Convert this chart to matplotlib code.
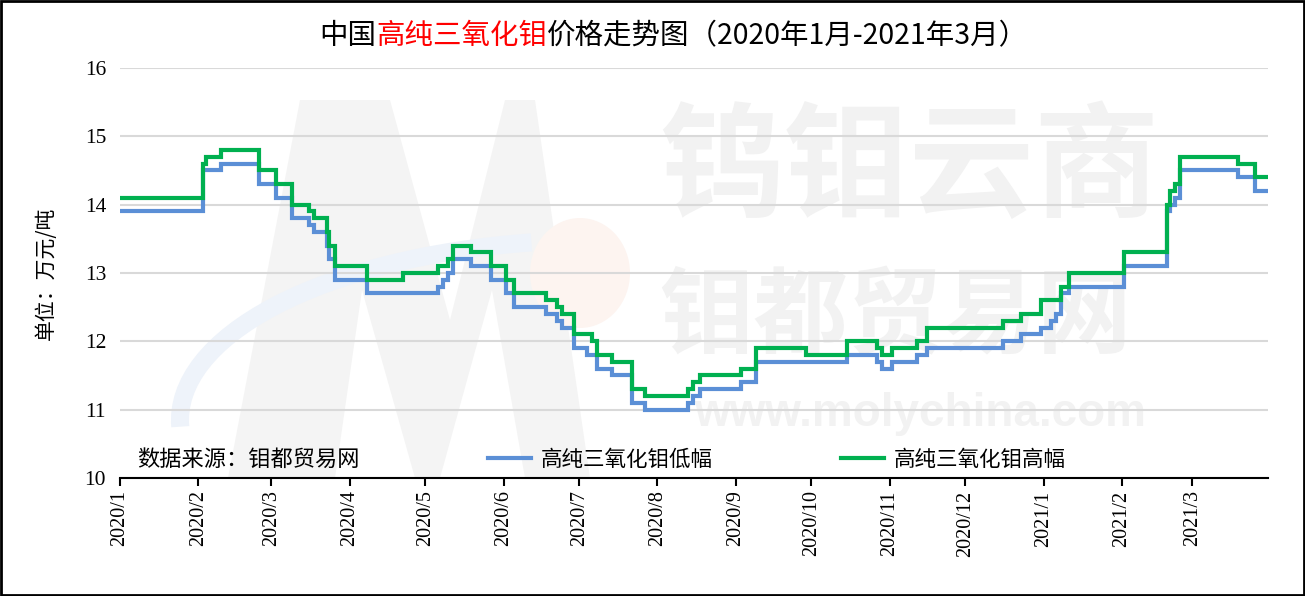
import pandas as pd
import numpy as np
import matplotlib
matplotlib.use('Agg')
import matplotlib.pyplot as plt
import matplotlib.dates as mdates
from matplotlib.patches import Rectangle, Polygon, Ellipse, Arc

plt.rcParams['font.family'] = ['Noto Sans CJK SC', 'DejaVu Sans']
plt.rcParams['axes.unicode_minus'] = False

# 价格变动日期（当天起生效）
change_dates = [
    '2020-01-01', '2020-02-03', '2020-02-04', '2020-02-10', '2020-02-25',
    '2020-03-03', '2020-03-09', '2020-03-16', '2020-03-18', '2020-03-23',
    '2020-03-24', '2020-03-26', '2020-04-08', '2020-04-22', '2020-05-06',
    '2020-05-08', '2020-05-10', '2020-05-12', '2020-05-19', '2020-05-27',
    '2020-06-02', '2020-06-05', '2020-06-18', '2020-06-22', '2020-06-24',
    '2020-06-29', '2020-07-04', '2020-07-06', '2020-07-08', '2020-07-14',
    '2020-07-22', '2020-07-27', '2020-08-13', '2020-08-15', '2020-08-18',
    '2020-09-03', '2020-09-09', '2020-09-29', '2020-10-15', '2020-10-27',
    '2020-10-29', '2020-11-02', '2020-11-12', '2020-11-16', '2020-12-16',
    '2020-12-23', '2020-12-31', '2021-01-04', '2021-01-06', '2021-01-08',
    '2021-01-11', '2021-02-02', '2021-02-19', '2021-02-20', '2021-02-22',
    '2021-02-24', '2021-03-19', '2021-03-26', '2021-03-31',
]
# 低幅（万元/吨）
low_price = [
    13.9, 14.5, 14.5, 14.6, 14.3,
    14.1, 13.8, 13.7, 13.6, 13.4,
    13.2, 12.9, 12.7, 12.7, 12.8,
    12.9, 13.0, 13.2, 13.1, 12.9,
    12.7, 12.5, 12.4, 12.3, 12.2,
    11.9, 11.8, 11.8, 11.6, 11.5,
    11.1, 11.0, 11.1, 11.2, 11.3,
    11.4, 11.7, 11.7, 11.8, 11.7,
    11.6, 11.7, 11.8, 11.9, 12.0,
    12.1, 12.2, 12.3, 12.4, 12.7,
    12.8, 13.1, 13.9, 14.0, 14.1,
    14.5, 14.4, 14.2, 14.2,
]
# 高幅（万元/吨）
high_price = [
    14.1, 14.6, 14.7, 14.8, 14.5,
    14.3, 14.0, 13.9, 13.8, 13.6,
    13.4, 13.1, 12.9, 13.0, 13.1,
    13.1, 13.2, 13.4, 13.3, 13.1,
    12.9, 12.7, 12.6, 12.5, 12.4,
    12.1, 12.1, 12.0, 11.8, 11.7,
    11.3, 11.2, 11.3, 11.4, 11.5,
    11.6, 11.9, 11.8, 12.0, 11.9,
    11.8, 11.9, 12.0, 12.2, 12.3,
    12.4, 12.6, 12.6, 12.6, 12.8,
    13.0, 13.3, 14.0, 14.2, 14.3,
    14.7, 14.6, 14.4, 14.4,
]
y_ticks = [10, 11, 12, 13, 14, 15, 16]

dates = pd.to_datetime(change_dates)
cjk = ['Noto Sans CJK SC', 'DejaVu Sans']
serif = ['Liberation Serif', 'DejaVu Serif']

W, H = 1305, 596
fig = plt.figure(figsize=(W / 100, H / 100), dpi=100)
ax = fig.add_axes([0.092, 0.198, 0.8797, 0.688])


def fx(px):
    return px / W


def fy(py):
    return 1 - py / H


# 水印（logo 与文字），放在曲线下面
m_shape = [(228, 478), (300, 100), (390, 100), (450, 320), (505, 100), (535, 100),
           (590, 478), (525, 478), (492, 290), (440, 478), (415, 478),
           (362, 290), (335, 478)]
ax.add_patch(Polygon([(fx(a), fy(b)) for a, b in m_shape], closed=True,
                     transform=fig.transFigure, facecolor='#f4f4f4', edgecolor='none',
                     zorder=0.1, clip_on=False))
ax.add_patch(Ellipse((fx(580), fy(273)), fx(100), 110 / H, transform=fig.transFigure,
                     facecolor='#fdf4f0', edgecolor='none', zorder=0.15, clip_on=False))
ax.add_patch(Arc((fx(600), fy(420)), fx(840), 360 / H, theta1=100, theta2=182,
                 transform=fig.transFigure, color='#eef3fa', lw=13, zorder=0.2,
                 clip_on=False))

wm = '#f2f2f2'
ax.text(0.47, 0.75, '钨钼云商', transform=ax.transAxes, fontsize=90, color=wm,
        fontweight='bold', family=cjk, ha='left', va='center', zorder=0.2)
ax.text(0.47, 0.39, '钼都贸易网', transform=ax.transAxes, fontsize=68, color=wm,
        fontweight='bold', family=cjk, ha='left', va='center', zorder=0.2)
ax.text(0.5, 0.155, 'www.molychina.com', transform=ax.transAxes, fontsize=33, color=wm,
        fontweight='bold', family=['Liberation Sans', 'DejaVu Sans'], ha='left',
        va='center', zorder=0.2)

ax.plot(dates, low_price, drawstyle='steps-post', color='#5B8FD6', lw=3,
        label='高纯三氧化钼低幅', zorder=3, solid_joinstyle='miter')
ax.plot(dates, high_price, drawstyle='steps-post', color='#00B050', lw=3,
        label='高纯三氧化钼高幅', zorder=4, solid_joinstyle='miter')

ax.set_xlim(pd.Timestamp('2020-01-01'), pd.Timestamp('2021-03-31'))
ax.set_ylim(10, 16)
ax.set_yticks(y_ticks)
ax.grid(axis='y', color='#d9d9d9', lw=1.5, zorder=1)
for s in ['top', 'right', 'left']:
    ax.spines[s].set_visible(False)
ax.spines['bottom'].set_color('black')
ax.spines['bottom'].set_linewidth(1.5)
ax.spines['bottom'].set_zorder(5)
ax.tick_params(axis='y', length=0, pad=10, labelsize=15.5)
ax.tick_params(axis='x', direction='out', length=6, width=1.5, pad=3, labelsize=14.5)
for lab in ax.get_yticklabels():
    lab.set_family(serif)

ax.xaxis.set_major_locator(mdates.MonthLocator())
ax.xaxis.set_major_formatter(plt.FuncFormatter(
    lambda v, p: f'{mdates.num2date(v).year}/{mdates.num2date(v).month}'))
plt.setp(ax.get_xticklabels(), rotation=90, family=serif)

ax.set_ylabel('单位：万元/吨', fontsize=15, family=cjk, labelpad=20)

ax.text(0.015, 0.045, '数据来源：钼都贸易网', transform=ax.transAxes,
        fontsize=16, family=cjk, va='center', ha='left', zorder=6)
leg = ax.legend(loc='center left', bbox_to_anchor=(0.3205, 0.045), ncol=2, frameon=False,
                prop={'family': cjk, 'size': 15.5}, handlelength=2.0, handletextpad=0.45,
                columnspacing=5.95, borderpad=0, borderaxespad=0)
leg.set_zorder(6)

# 标题（分色）
parts = [('中国', 'black'), ('高纯三氧化钼', 'red'), ('价格走势图（2020年1月-2021年3月）', 'black')]
renderer = fig.canvas.get_renderer()
objs = []
for txt, col in parts:
    t = fig.text(0, fy(36), txt, color=col, fontsize=20.5, family=cjk, va='center', ha='left')
    objs.append(t)
widths = [t.get_window_extent(renderer).width / fig.bbox.width for t in objs]
x = fx(674) - sum(widths) / 2
for t, w in zip(objs, widths):
    t.set_x(x)
    x += w

fig.patches.append(Rectangle((0.001, 0.002), 0.998, 0.996, transform=fig.transFigure,
                             fill=False, edgecolor='black', lw=2))

fig.savefig('out.png', dpi=100)
